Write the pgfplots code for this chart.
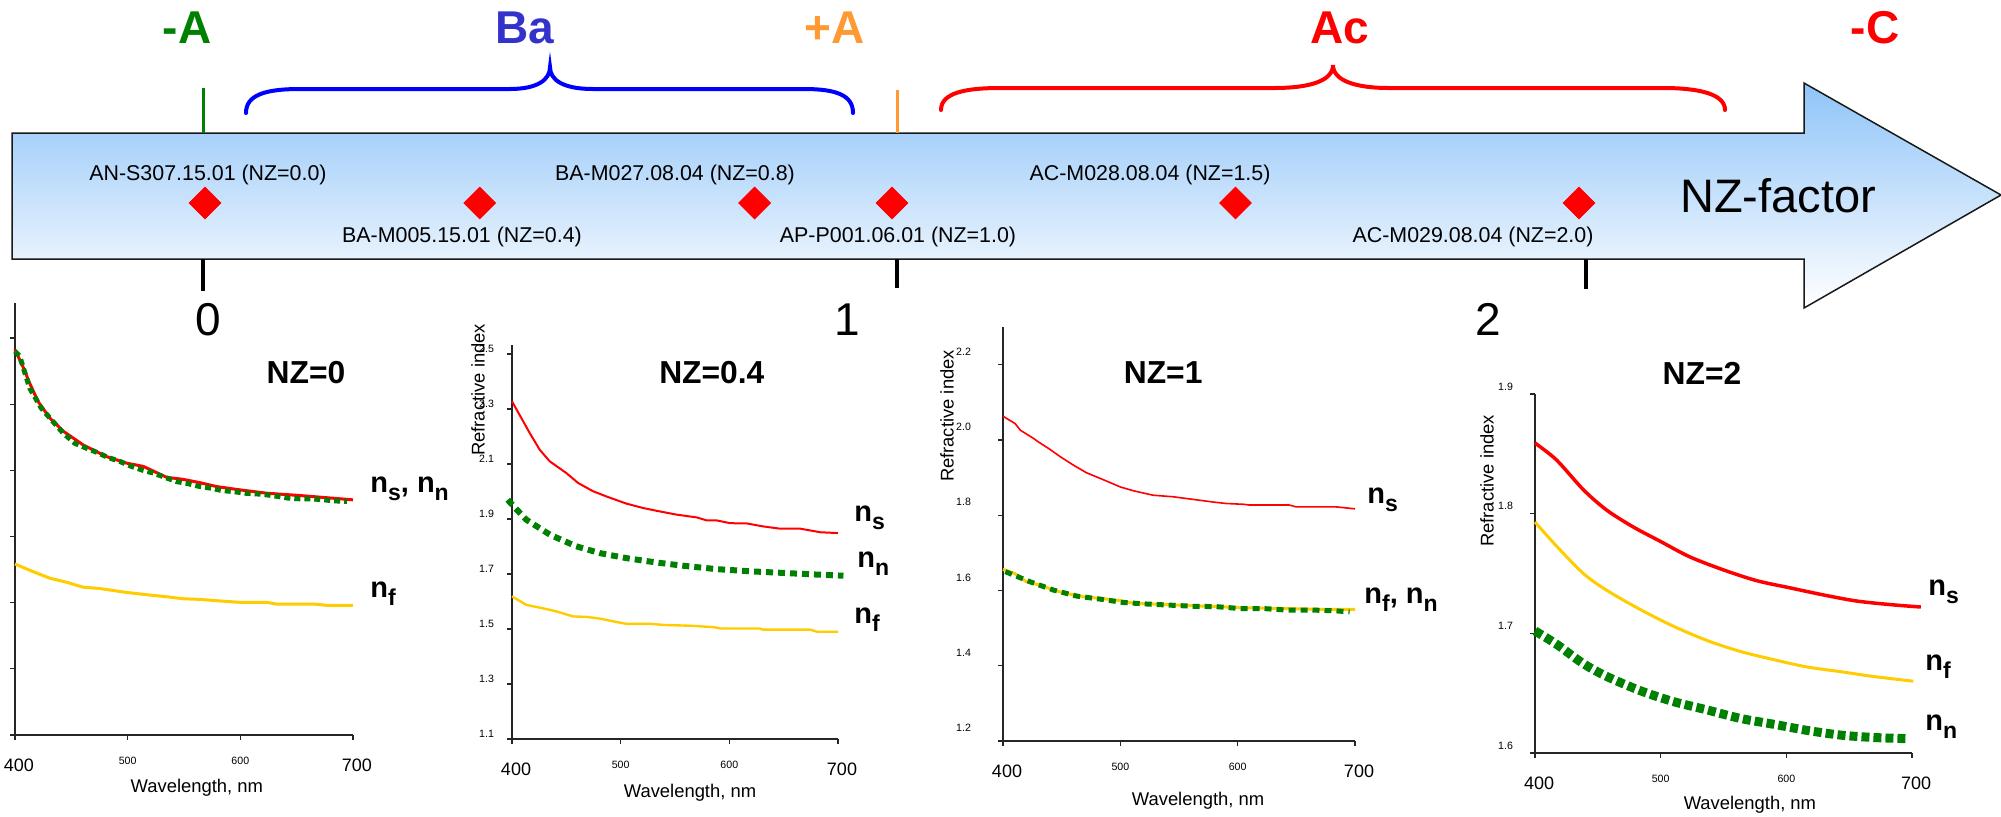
\documentclass[border=0pt]{standalone}
\usepackage{fontspec}
\setmainfont{Liberation Sans}
\usepackage{pgfplots}
\pgfplotsset{compat=1.18}
\definecolor{nsred}{RGB}{255,0,0}
\definecolor{nfyel}{RGB}{255,204,0}
\definecolor{nngreen}{RGB}{0,128,0}
\definecolor{bablue}{RGB}{51,51,204}
\definecolor{braceblue}{RGB}{0,0,255}
\definecolor{aorange}{RGB}{255,153,51}
\definecolor{arrowtop}{RGB}{143,196,248}
\newcommand{\fs}[1]{\fontsize{#1}{#1}\selectfont}
\newcommand{\nsub}[1]{n\raisebox{-4.2pt}{\fs{11.5}#1}}
\pgfplotsset{
  panel/.style={
    scale only axis, clip=false, anchor=south west,
    axis lines=left, axis line style={-, line width=0.7pt, black!85},
    xmin=400, xmax=700,
    xtick={500,600},
    xticklabel style={font=\fs{5.3}, yshift=-5pt},
    extra x ticks={400,700},
    extra x tick style={xticklabel style={font=\fs{9}, yshift=-1pt, xshift=2pt}},
    tick align=outside, major tick length=2.5pt,
    tick style={line width=0.6pt, black!85},
    /pgf/number format/assume math mode=true,
    yticklabel style={font=\fs{5.3}, /pgf/number format/fixed, /pgf/number format/fixed zerofill, /pgf/number format/precision=1},
    xlabel={Wavelength, nm},
    ylabel={Refractive index},
  },
  xlab/.style 2 args={every axis x label/.style={at={(axis description cs:#1,#2)}, anchor=center, font=\fs{9.2}}},
  ylab/.style 2 args={every axis y label/.style={at={(axis description cs:#1,#2)}, rotate=90, anchor=center, font=\fs{9.2}}},
  ttl/.style 2 args={every axis title/.style={at={(axis description cs:#1,#2)}, anchor=center, font=\bfseries\fs{15.9}}},
}
\begin{document}
\begin{tikzpicture}
\path[use as bounding box] (0,0) rectangle (1000.5pt,-408pt);
\begin{scope}[x=0.5pt,y=-0.5pt]
  \draw[line width=0.75pt, black!90, top color=arrowtop, bottom color=white]
    (12,133) -- (1804,133) -- (1804,83) -- (2001,195) -- (1804,308) -- (1804,259) -- (12,259) -- cycle;
  \draw[nngreen, line width=1.5pt] (203,88) -- (203,133);
  \draw[aorange, line width=1.5pt] (897,90) -- (897,133);
  \draw[black, line width=2pt] (203,259) -- (203,291) (897,259) -- (897,288) (1586,259) -- (1586,289);
  \draw[braceblue, line width=2pt, line cap=round]
    (246,113) .. controls (246,95) and (265,89) .. (300,89) -- (510,89)
    .. controls (537,89) and (550,80) .. (550,67)
    .. controls (550,80) and (563,89) .. (593,89) -- (804,89)
    .. controls (836,89) and (853,95) .. (853,113);
  \draw[nsred, line width=2pt, line cap=round]
    (941,110) .. controls (941,93) and (965,88) .. (1000,88) -- (1274,88)
    .. controls (1312,88) and (1333,80) .. (1333,65)
    .. controls (1333,80) and (1354,88) .. (1389,88) -- (1663,88)
    .. controls (1702,88) and (1725,95) .. (1725,110);
  \begin{scope}[every node/.style={inner sep=0pt, anchor=base}]
    \node[font=\bfseries\fs{23}, text=nngreen] at (187,43) {-A};
    \node[font=\bfseries\fs{23}, text=bablue] at (525,43) {Ba};
    \node[font=\bfseries\fs{23}, text=aorange] at (835,43) {+A};
    \node[font=\bfseries\fs{23}, text=nsred] at (1340,43) {Ac};
    \node[font=\bfseries\fs{23}, text=nsred] at (1875,43) {-C};
    \node[font=\fs{10.7}] at (208,180) {AN-S307.15.01 (NZ=0.0)};
    \node[font=\fs{10.7}] at (462,242) {BA-M005.15.01 (NZ=0.4)};
    \node[font=\fs{10.7}] at (675,180) {BA-M027.08.04 (NZ=0.8)};
    \node[font=\fs{10.7}] at (898,242) {AP-P001.06.01 (NZ=1.0)};
    \node[font=\fs{10.7}] at (1150,180) {AC-M028.08.04 (NZ=1.5)};
    \node[font=\fs{10.7}] at (1473,242) {AC-M029.08.04 (NZ=2.0)};
    \node[font=\fs{23.5}] at (1778,212) {NZ-factor};
    \node[font=\fs{23}] at (208,335) {0};
    \node[font=\fs{23}] at (847,335) {1};
    \node[font=\fs{23}] at (1488,335) {2};
  \end{scope}
\end{scope}

% NZ positions of the samples
\begin{axis}[at={(102.5pt,-101.5pt)}, anchor=south west, scale only axis, width=687pt, height=10pt,
  xmin=0, xmax=2, ymin=0, ymax=1, hide axis, clip=false]
\addplot[only marks, mark=square*, mark size=5.6pt, mark options={rotate=45, fill=nsred, draw=nsred}]
  coordinates {(0,0) (0.4,0) (0.8,0) (1.0,0) (1.5,0) (2.0,0)};
\end{axis}

% NZ = 0
\begin{axis}[panel, at={(7.5pt,-367.5pt)}, width=169pt, height=216pt,
  ymin=1.0, ymax=2.306, ytick={1.0,1.2,1.4,1.6,1.8,2.0,2.2}, yticklabels={}, ylabel={},
  xlab={0.538}{-0.123}, ttl={0.861}{0.838}, title={NZ=0}]
\addplot[nsred, line width=1.5pt] coordinates {(400,2.165) (407,2.114) (413,2.064) (420.5,2.008) (431,1.958) (443,1.918) (460.5,1.877) (481,1.842) (499,1.822) (514,1.812) (534.6,1.779) (549,1.773) (564,1.763) (579,1.751) (600,1.741) (623.5,1.731) (653,1.724) (671,1.719) (700,1.711)};
\addplot[nngreen, line width=2.5pt, line cap=butt, dash pattern=on 3pt off 2pt] coordinates {(400,2.160) (404.2,2.145) (413,2.049) (423.4,1.988) (432.3,1.953) (442.7,1.913) (453.1,1.882) (463.4,1.867) (472.3,1.855) (482.7,1.839) (493.1,1.827) (503.5,1.812) (513.8,1.800) (522.7,1.792) (533.1,1.779) (543.5,1.766) (552.4,1.761) (564.2,1.751) (574.6,1.746) (583.5,1.739) (593.9,1.736) (604.3,1.731) (614.6,1.729) (623.5,1.726) (633.9,1.721) (642.8,1.716) (653.2,1.714) (663.6,1.714) (674,1.711) (682.8,1.708) (694.7,1.706)};
\addplot[nfyel, line width=1.5pt] coordinates {(400,1.517) (416,1.494) (431,1.474) (445.6,1.462) (460.5,1.447) (475,1.443) (499,1.431) (520,1.423) (534.6,1.418) (549,1.412) (564,1.410) (579,1.406) (600,1.401) (623.5,1.401) (632,1.396) (665,1.396) (677,1.392) (700,1.392)};
\end{axis}

% NZ = 0.4
\begin{axis}[panel, at={(256pt,-369.5pt)}, width=163pt, height=197pt,
  ymin=1.1, ymax=2.533, ytick={1.1,1.3,1.5,1.7,1.9,2.1,2.3,2.5},
  yticklabel style={xshift=-3pt, yshift=2.5pt},
  xlab={0.546}{-0.137}, ylab={-0.104}{0.886}, ttl={0.613}{0.929}, title={NZ=0.4}]
\addplot[nsred, line width=1pt] coordinates {(400,2.328) (416.3,2.213) (425.5,2.152) (434.7,2.110) (450.1,2.067) (460.9,2.031) (474.7,2.001) (487,1.982) (505.4,1.956) (520.8,1.940) (533.1,1.930) (551.6,1.916) (570,1.906) (579.2,1.895) (588.4,1.895) (600.7,1.885) (616.1,1.884) (631.5,1.873) (646.8,1.865) (665.3,1.865) (683.7,1.852) (700,1.849)};
\addplot[nngreen, line width=3pt, line cap=butt, dash pattern=on 3.5pt off 2.5pt] coordinates {(396,1.970) (413,1.898) (435,1.843) (459,1.801) (481,1.776) (505,1.758) (533,1.742) (558,1.730) (588,1.718) (619,1.710) (650,1.704) (681,1.698) (705,1.694)};
\addplot[nfyel, line width=1.2pt] coordinates {(400,1.619) (413,1.588) (429,1.575) (441,1.564) (456,1.546) (469,1.544) (481,1.538) (493,1.528) (505,1.519) (527,1.519) (539,1.515) (564,1.512) (585,1.507) (592,1.502) (628,1.502) (631,1.498) (674,1.498) (681,1.490) (700,1.490)};
\end{axis}

% NZ = 1
\begin{axis}[panel, at={(501.5pt,-370.5pt)}, width=176pt, height=207pt,
  ymin=1.2, ymax=2.3, ytick={1.2,1.4,1.6,1.8,2.0,2.2},
  yticklabel style={xshift=-10pt, yshift=6.5pt},
  xlab={0.554}{-0.145}, ylab={-0.159}{0.785}, ttl={0.455}{0.889}, title={NZ=1}]
\addplot[nsred, line width=0.8pt] coordinates {(400,2.063) (410.5,2.043) (414.7,2.026) (426,2.004) (430,1.995) (439,1.977) (449,1.955) (460,1.933) (471,1.913) (488,1.891) (500,1.875) (511,1.865) (528,1.853) (545,1.849) (562,1.842) (579,1.835) (590.5,1.831) (605,1.829) (610,1.827) (644,1.827) (650,1.822) (684,1.822) (700,1.817)};
\addplot[nfyel, line width=1.5pt] coordinates {(400,1.656) (410,1.645) (420,1.623) (432,1.614) (443,1.601) (454,1.592) (469,1.583) (483,1.579) (500,1.573) (511,1.566) (528,1.564) (556,1.560) (585,1.557) (602,1.554) (642,1.552) (670,1.550) (700,1.550)};
\addplot[nngreen, line width=2.5pt, line cap=butt, dash pattern=on 3.5pt off 2.5pt] coordinates {(402,1.650) (423.2,1.623) (443.1,1.601) (462.9,1.585) (482.8,1.577) (502.6,1.568) (522.5,1.564) (542.3,1.561) (562.2,1.558) (582,1.557) (601.9,1.552) (621.7,1.552) (641.6,1.548) (662.8,1.548) (682.7,1.546) (695.4,1.543)};
\end{axis}

% NZ = 2
\begin{axis}[panel, at={(767.5pt,-376.5pt)}, width=188.5pt, height=179.5pt,
  ymin=1.6, ymax=1.9, ytick={1.6,1.7,1.8,1.9},
  yticklabel style={xshift=-5pt, yshift=3.8pt},
  xlab={0.570}{-0.145}, ylab={-0.127}{0.758}, ttl={0.443}{1.058}, title={NZ=2}]
\addplot[nsred, line width=1.75pt, smooth] coordinates {(400,1.859) (417,1.845) (438.5,1.820) (457,1.803) (478,1.789) (499.5,1.777) (523,1.764) (550,1.753) (576.5,1.744) (603,1.738) (630,1.732) (656,1.727) (683,1.724) (707,1.722)};
\addplot[nfyel, line width=1.5pt, smooth] coordinates {(400,1.793) (417,1.773) (438.5,1.750) (457,1.736) (483.6,1.720) (510,1.706) (537,1.694) (563,1.685) (590,1.678) (616,1.672) (643,1.668) (669,1.664) (701,1.660)};
\addplot[nngreen, line width=4.5pt, line cap=butt, dash pattern=on 4pt off 2pt, smooth] coordinates {(400,1.702) (417,1.691) (438,1.675) (457,1.664) (484,1.652) (510,1.643) (537,1.636) (563,1.629) (590,1.624) (616,1.619) (643,1.615) (669,1.613) (696,1.612)};
\end{axis}

\begin{scope}[x=0.5pt,y=-0.5pt, every node/.style={inner sep=0pt, anchor=base west, font=\bfseries\fs{14.5}}]
  \node at (370,492) {\nsub{s}, \nsub{n}};
  \node at (370,597) {\nsub{f}};
  \node at (854,521) {\nsub{s}};
  \node at (857,567) {\nsub{n}};
  \node at (854,623) {\nsub{f}};
  \node at (1367,503) {\nsub{s}};
  \node at (1364,603) {\nsub{f}, \nsub{n}};
  \node at (1928,595) {\nsub{s}};
  \node at (1925,670) {\nsub{f}};
  \node at (1925,730) {\nsub{n}};
\end{scope}
\end{tikzpicture}
\end{document}
